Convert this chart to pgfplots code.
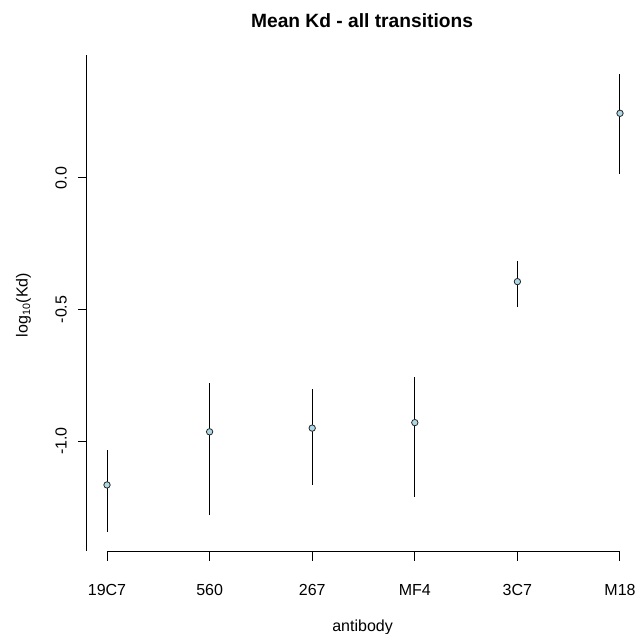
\documentclass[border=0pt]{standalone}
\usepackage{fontspec}
\setmainfont{Liberation Sans}
\usepackage{pgfplots}
\usepackage{pgfplotstable}
\pgfplotsset{compat=1.18}
\definecolor{lightblue}{HTML}{ADD8E6}

% mean log10(Kd) per antibody, with distances to the upper and lower ends of the bar
\pgfplotstableread{
x mean ep em
1 -1.167 0.133 0.179
2 -0.965 0.185 0.318
3 -0.951 0.148 0.215
4 -0.930 0.172 0.284
5 -0.394 0.078 0.095
6  0.246 0.149 0.231
}\kd

\begin{document}
\begin{tikzpicture}
\path[use as bounding box] (-65.25pt,-61.5pt) rectangle (411.75pt,414pt);
\begin{axis}[
  at={(0,0)}, anchor=south west,
  scale only axis, width=411.75pt, height=372.75pt,
  xmin=0.805, xmax=6.156, ymin=-1.422, ymax=0.4677,
  axis line style={draw=none},
  tick pos=left, tick align=outside, major tick length=6.75pt,
  tick style={black, line width=0.75pt},
  xtick={1,...,6}, xticklabels={19C7,560,267,MF4,3C7,M18},
  ytick={-1,-0.5,0}, yticklabels={-1.0,-0.5,0.0},
  ticklabel style={font=\fontsize{12}{14}\selectfont},
  xticklabel style={anchor=base, yshift=-25.9pt},
  yticklabel style={rotate=90, anchor=base, yshift=8.5pt},
  title={\textbf{Mean Kd - all transitions}},
  title style={font=\fontsize{14.4}{16}\selectfont, at={(axis description cs:0.501,1.0395)}, anchor=base},
  xlabel={antibody},
  xlabel style={font=\fontsize{12}{14}\selectfont, at={(axis description cs:0.502,-0.159)}, anchor=base},
  ylabel={log\textsubscript{10}(Kd)},
  ylabel style={font=\fontsize{12}{14}\selectfont, at={(axis description cs:-0.108,0.497)}, rotate=0, anchor=base},
  clip=false,
]
\draw[line width=0.75pt] (rel axis cs:0,0.002) -- (rel axis cs:0,1);
\draw[line width=0.75pt] (axis cs:1,-1.422) -- (axis cs:6,-1.422);
\addplot[only marks, mark=*, mark size=2.4pt,
  mark options={fill=lightblue, draw=black!85, line width=0.6pt},
  error bars/.cd, y dir=both, y explicit, error mark=none,
  error bar style={black, line width=0.75pt}]
  table[x=x, y=mean, y error plus=ep, y error minus=em] {\kd};
\end{axis}
\end{tikzpicture}
\end{document}
